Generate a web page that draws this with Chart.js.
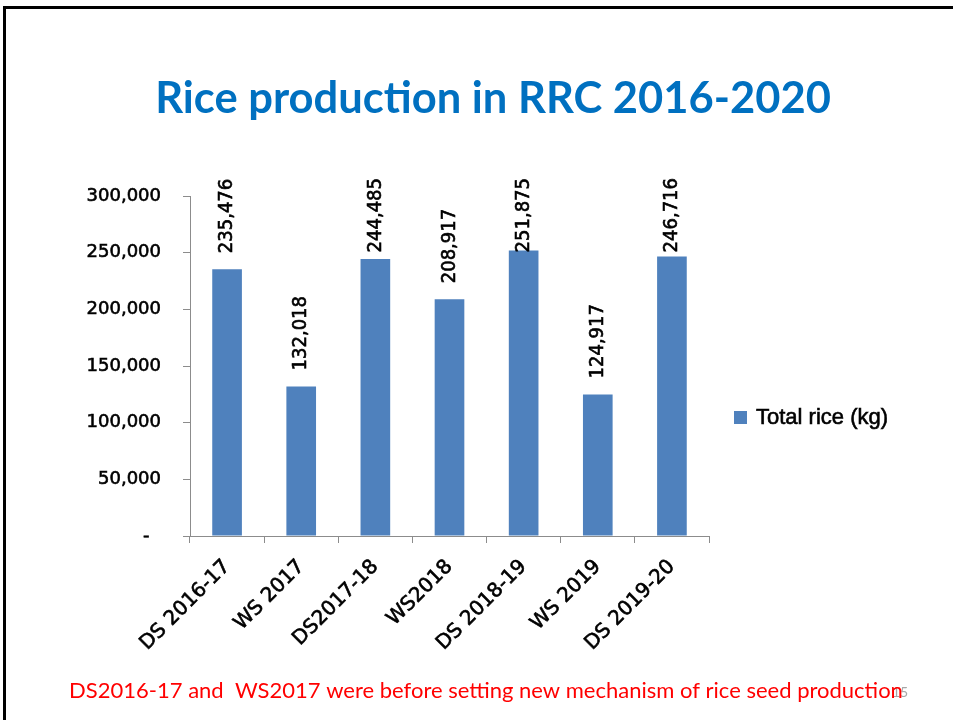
<!DOCTYPE html>
<html>
<head>
<meta charset="utf-8">
<script src="https://cdn.jsdelivr.net/npm/chart.js@4.4.1/dist/chart.umd.min.js"></script>
<style>
    html, body { margin: 0; padding: 0; background: #ffffff; }
    #grafico { display: block; }
</style>
</head>
<body>
<canvas id="grafico" width="953" height="720"></canvas>
<script>
// #region Dados do grafico

var categorias = ["DS 2016-17", "WS 2017", "DS2017-18", "WS2018", "DS 2018-19", "WS 2019", "DS 2019-20"];
var totalArroz = [235476, 132018, 244485, 208917, 251875, 124917, 246716];
var rotuloSerie = "Total rice (kg)";
var tituloSlide = "Rice production in RRC 2016-2020";
var notaRodape = "DS2016-17 and  WS2017 were before setting new mechanism of rice seed production";
var numeroPagina = "15";

// #endregion Dados do grafico

var COR_BARRA = "#4F81BD";
var COR_EIXO = "#8C8C8C";
var FONTE_EIXO = "'DejaVu Sans'";
var FONTE_ROTULO = "'DejaVu Sans Condensed', 'DejaVu Sans'";
var TRACO_TEXTO = 0.6;

function formatarNumero(v) {
    if (v === 0) return "-  ";
    return v.toLocaleString("en-US");
}

function textoEncorpado(ctx, texto, x, y) {
    ctx.fillText(texto, x, y);
    ctx.lineWidth = TRACO_TEXTO;
    ctx.strokeStyle = ctx.fillStyle;
    ctx.strokeText(texto, x, y);
}

// desenha moldura, titulo, legenda e rodape
var pluginSlide = {
    id: "slide",
    beforeDraw: function (chart) {
        const ctx = chart.ctx;
        ctx.save();
        ctx.fillStyle = "#ffffff";
        ctx.fillRect(0, 0, chart.width, chart.height);
        ctx.strokeStyle = "#000000";
        ctx.lineWidth = 3;
        ctx.beginPath();
        ctx.moveTo(4.5, chart.height + 5);
        ctx.lineTo(4.5, 7.5);
        ctx.lineTo(chart.width + 5, 7.5);
        ctx.stroke();

        ctx.fillStyle = "#0070C0";
        ctx.font = "bold 43.5px Lato";
        ctx.textAlign = "center";
        ctx.textBaseline = "alphabetic";
        ctx.fillText(tituloSlide, 493, 113);

        ctx.fillStyle = "#A6A6A6";
        ctx.font = "14px Lato";
        ctx.textAlign = "left";
        ctx.fillText(numeroPagina, 892, 697);

        ctx.fillStyle = "#FF0000";
        ctx.font = "22px Lato";
        ctx.textAlign = "center";
        ctx.fillText(notaRodape, 486, 698);
        ctx.restore();
    },
    afterDatasetsDraw: function (chart) {
        const ctx = chart.ctx;
        const meta = chart.getDatasetMeta(0);
        ctx.save();
        ctx.fillStyle = "#000000";
        ctx.font = "20px " + FONTE_ROTULO;
        ctx.textAlign = "left";
        ctx.textBaseline = "middle";
        meta.data.forEach(function (barra, i) {
            const texto = formatarNumero(totalArroz[i]);
            const largura = ctx.measureText(texto).width;
            // rotulos altos ficam presos no topo da area do grafico (como no Excel)
            const base = Math.max(barra.y - 16, 178 + largura);
            ctx.save();
            ctx.translate(barra.x, base);
            ctx.rotate(-Math.PI / 2);
            textoEncorpado(ctx, texto, 0, 0);
            ctx.restore();
        });

        // legenda
        ctx.fillStyle = COR_BARRA;
        ctx.fillRect(734, 411, 13, 13);
        ctx.fillStyle = "#000000";
        ctx.font = "22px 'Liberation Sans'";
        ctx.textBaseline = "middle";
        textoEncorpado(ctx, rotuloSerie, 756, 418);
        ctx.restore();
    }
};

function loadGraficoArroz() {
    const options = {
        type: "bar",
        data: {
            labels: categorias,
            datasets: [{
                label: rotuloSerie,
                data: totalArroz,
                backgroundColor: COR_BARRA,
                borderWidth: 0,
                barPercentage: 0.4,
                categoryPercentage: 1.0
            }]
        },
        options: {
            responsive: false,
            animation: false,
            layout: { padding: { left: 0, top: 196, right: 244, bottom: 0 } },
            plugins: {
                legend: { display: false },
                tooltip: { enabled: false }
            },
            scales: {
                x: {
                    afterFit: function (scale) { scale.height = 184; },
                    grid: { display: true, drawOnChartArea: false, drawTicks: true, tickLength: 7, color: COR_EIXO, offset: true },
                    border: { display: true, color: COR_EIXO, width: 1 },
                    ticks: {
                        color: "#000000",
                        font: { family: FONTE_EIXO, size: 20 },
                        textStrokeColor: "#000000",
                        textStrokeWidth: TRACO_TEXTO,
                        minRotation: 45,
                        maxRotation: 45,
                        autoSkip: false,
                        padding: 12
                    }
                },
                y: {
                    min: 0,
                    max: 300000,
                    afterFit: function (scale) { scale.width = 190; },
                    grid: { display: true, drawOnChartArea: false, drawTicks: true, tickLength: 7, color: COR_EIXO },
                    border: { display: true, color: COR_EIXO, width: 1 },
                    ticks: {
                        stepSize: 50000,
                        color: "#000000",
                        font: { family: FONTE_EIXO, size: 18 },
                        textStrokeColor: "#000000",
                        textStrokeWidth: TRACO_TEXTO,
                        padding: 22,
                        callback: function (v) { return formatarNumero(v); }
                    }
                }
            }
        },
        plugins: [pluginSlide]
    };

    return new Chart(document.getElementById("grafico"), options);
}

loadGraficoArroz();
</script>
</body>
</html>
